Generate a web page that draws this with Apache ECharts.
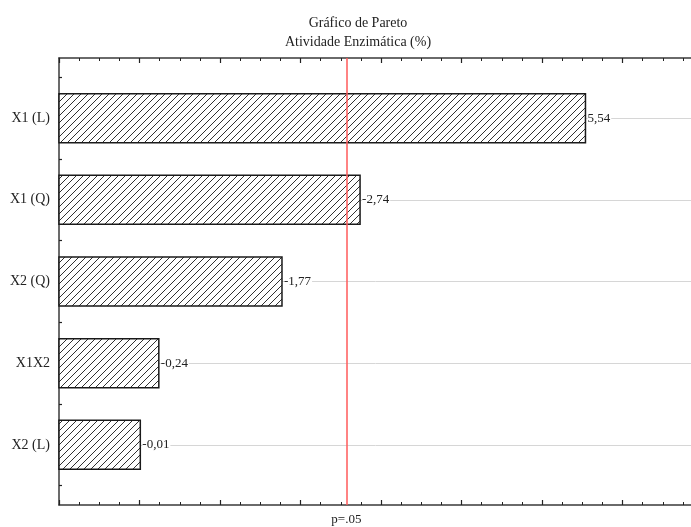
<!DOCTYPE html>
<html>
<head>
<meta charset="utf-8">
<script src="https://cdn.jsdelivr.net/npm/echarts@6/dist/echarts.min.js"></script>
<style>
  html, body { margin: 0; padding: 0; background: #fff; }
  #chart { width: 691px; height: 527px; }
</style>
</head>
<body>
<div id="chart"></div>
<script>
// Effect names, top to bottom
const factors = ['X1 (L)', 'X1 (Q)', 'X2 (Q)', 'X1X2', 'X2 (L)'];
// Standardized effect estimates (bar length = absolute value)
const effects = [5.54, -2.74, -1.77, -0.24, -0.01];
// Critical t value for p = .05
const pCritical = 2.5706;
const pLabel = 'p=.05';
// Horizontal scale
const xMin = -1;
const xMax = 7;

const SERIF = '"Liberation Serif", "Times New Roman", serif';
const INK = '#222';

// Diagonal hatch tile for the bars
function hatchTile() {
  const s = 7;
  const c = document.createElement('canvas');
  c.width = s; c.height = s;
  const g = c.getContext('2d');
  g.fillStyle = '#fff';
  g.fillRect(0, 0, s, s);
  g.strokeStyle = '#1a1a1a';
  g.lineWidth = 0.9;
  g.beginPath();
  g.moveTo(0, s); g.lineTo(s, 0);
  g.moveTo(-1, 1); g.lineTo(1, -1);
  g.moveTo(s - 1, s + 1); g.lineTo(s + 1, s - 1);
  g.stroke();
  return c;
}
const hatch = { image: hatchTile(), repeat: 'repeat' };

const fmt = v => v.toFixed(2).replace('.', ',');

const axisLine = { show: true, onZero: false, lineStyle: { color: '#3a3a3a', width: 1.5 } };
const xTicks = {
  axisLine: axisLine,
  axisTick: { show: true, inside: true, length: 5, lineStyle: { color: '#222', width: 1.2 } },
  minorTick: { show: true, splitNumber: 4, length: 3, lineStyle: { color: '#222', width: 1 } },
  axisLabel: { show: false },
  splitLine: { show: false }
};

const chart = echarts.init(document.getElementById('chart'), null, { renderer: 'canvas' });

chart.setOption({
  animation: false,
  backgroundColor: '#fff',
  title: {
    text: 'Gráfico de Pareto\nAtividade Enzimática (%)',
    left: 353,
    top: 9,
    textAlign: 'center',
    textStyle: { fontFamily: SERIF, fontSize: 14, fontWeight: 'normal', color: INK, lineHeight: 19 }
  },
  grid: [
    // frame (extends a little past the right edge of the canvas)
    { left: 59, width: 644, top: 58, bottom: 22, outerBoundsMode: 'none', containLabel: false },
    // bar rows
    { left: 59, width: 644, top: 77.3, bottom: 41.3, outerBoundsMode: 'none', containLabel: false }
  ],
  xAxis: [
    Object.assign({ type: 'value', gridIndex: 0, position: 'bottom', min: xMin, max: xMax, interval: 1 }, xTicks),
    Object.assign({ type: 'value', gridIndex: 0, position: 'top', min: xMin, max: xMax, interval: 1 }, xTicks),
    { type: 'value', gridIndex: 1, min: xMin, max: xMax, interval: 1, show: false }
  ],
  yAxis: [
    {
      type: 'value', gridIndex: 0, min: 0, max: 1, position: 'left',
      axisLine: axisLine, axisTick: { show: false }, axisLabel: { show: false }, splitLine: { show: false }
    },
    {
      type: 'value', gridIndex: 1, min: -0.5, max: 4.5, interval: 0.5, inverse: true, position: 'left',
      axisLine: { show: false, onZero: false },
      axisTick: { show: true, inside: true, length: 3, lineStyle: { color: '#222', width: 1.2 } },
      axisLabel: {
        show: true, margin: 9, color: INK, fontFamily: SERIF, fontSize: 14,
        showMinLabel: true, showMaxLabel: true,
        formatter: v => (Number.isInteger(v) && factors[v] !== undefined) ? factors[v] : ''
      },
      splitLine: { show: false }
    }
  ],
  series: [
    // light row guides through each bar center
    {
      type: 'line', xAxisIndex: 2, yAxisIndex: 1, data: [], z: 1,
      markLine: {
        silent: true, symbol: 'none', z: 1,
        label: { show: false },
        lineStyle: { color: '#d6d6d6', width: 1, type: 'solid' },
        data: factors.map((_, i) => ({ yAxis: i }))
      }
    },
    // hatched bars from the axis start to |effect|
    {
      type: 'custom', xAxisIndex: 2, yAxisIndex: 1, z: 3,
      data: effects.map((v, i) => [Math.abs(v), i, v]),
      renderItem: function (params, api) {
        const len = api.value(0);
        const row = api.value(1);
        const start = api.coord([xMin, row]);
        const end = api.coord([len, row]);
        const h = api.size([0, 0.6])[1];
        return {
          type: 'group',
          children: [
            {
              type: 'rect',
              shape: { x: start[0], y: start[1] - h / 2, width: end[0] - start[0], height: h },
              style: { fill: hatch, stroke: '#1a1a1a', lineWidth: 1.5 }
            },
            {
              type: 'text',
              x: end[0] + 2, y: end[1],
              style: {
                text: fmt(api.value(2)), fill: INK, font: '13px ' + SERIF,
                align: 'left', verticalAlign: 'middle', backgroundColor: '#fff', padding: [0, 1, 0, 0]
              }
            }
          ]
        };
      }
    },
    // significance threshold
    {
      type: 'line', xAxisIndex: 0, yAxisIndex: 0, data: [], z: 5,
      markLine: {
        silent: true, symbol: 'none', z: 6,
        lineStyle: { color: '#ff5a5a', width: 1.5, type: 'solid' },
        label: {
          show: true, position: 'start', formatter: pLabel, distance: 8,
          color: INK, fontFamily: SERIF, fontSize: 13
        },
        data: [{ xAxis: pCritical }]
      }
    }
  ]
});
</script>
</body>
</html>
